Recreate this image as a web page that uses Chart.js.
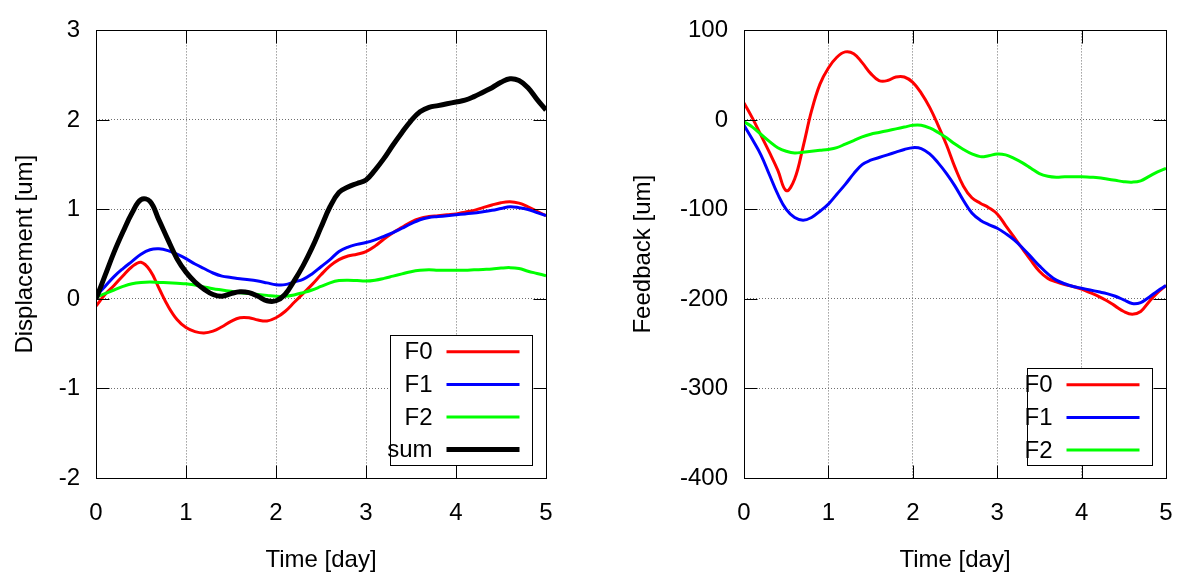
<!DOCTYPE html>
<html>
<head>
<meta charset="utf-8">
<script src="https://cdn.jsdelivr.net/npm/chart.js@4.4.1/dist/chart.umd.min.js"></script>
<style>
  html, body { margin: 0; padding: 0; background: #fff; }
  #wrap { position: relative; width: 1182px; height: 578px; }
  .pane { position: absolute; top: 0; }
  #leftPane { left: 0; }
  #rightPane { left: 600px; }
</style>
</head>
<body>
<div id="wrap">
  <div class="pane" id="leftPane"><canvas id="dispChart" width="600" height="578"></canvas></div>
  <div class="pane" id="rightPane"><canvas id="fbChart" width="582" height="578"></canvas></div>
</div>
<script>
const time = [0, 0.1, 0.2, 0.3, 0.4, 0.5, 0.6, 0.7, 0.8, 0.9, 1.0,
  1.1, 1.2, 1.3, 1.4, 1.5, 1.6, 1.7, 1.8, 1.9, 2.0,
  2.1, 2.2, 2.3, 2.4, 2.5, 2.6, 2.7, 2.8, 2.9, 3.0,
  3.1, 3.2, 3.3, 3.4, 3.5, 3.6, 3.7, 3.8, 3.9, 4.0,
  4.1, 4.2, 4.3, 4.4, 4.5, 4.6, 4.7, 4.8, 4.9, 5.0];

// Displacement [um]
const dispF0 = [-0.08, 0.05, 0.15, 0.26, 0.36, 0.41, 0.32, 0.12, -0.08, -0.23, -0.32,
  -0.365, -0.38, -0.36, -0.31, -0.25, -0.21, -0.21, -0.235, -0.245, -0.21,
  -0.14, -0.04, 0.06, 0.16, 0.27, 0.37, 0.44, 0.48, 0.5, 0.53,
  0.59, 0.67, 0.74, 0.8, 0.86, 0.9, 0.92, 0.93, 0.94, 0.95,
  0.97, 0.99, 1.02, 1.05, 1.075, 1.085, 1.07, 1.03, 0.98, 0.93];
const dispF1 = [0.03, 0.14, 0.25, 0.34, 0.42, 0.5, 0.55, 0.56, 0.54, 0.5, 0.45,
  0.39, 0.34, 0.29, 0.255, 0.24, 0.225, 0.215, 0.2, 0.18, 0.16,
  0.16, 0.19, 0.22, 0.28, 0.36, 0.44, 0.53, 0.58, 0.61, 0.63,
  0.66, 0.7, 0.74, 0.79, 0.84, 0.885, 0.91, 0.92, 0.93, 0.94,
  0.95, 0.96, 0.975, 0.99, 1.01, 1.03, 1.02, 1.0, 0.965, 0.93];
const dispF2 = [0.02, 0.06, 0.1, 0.14, 0.17, 0.185, 0.19, 0.185, 0.18, 0.175, 0.17,
  0.155, 0.135, 0.115, 0.1, 0.085, 0.07, 0.06, 0.05, 0.04, 0.03,
  0.03, 0.045, 0.07, 0.1, 0.14, 0.18, 0.205, 0.21, 0.205, 0.2,
  0.21, 0.23, 0.255, 0.28, 0.305, 0.32, 0.325, 0.32, 0.32, 0.32,
  0.32, 0.325, 0.33, 0.335, 0.345, 0.35, 0.34, 0.31, 0.285, 0.26];
const dispSum = [0, 0.26, 0.52, 0.75, 0.96, 1.11, 1.09, 0.88, 0.66, 0.45, 0.3,
  0.19, 0.11, 0.05, 0.03, 0.06, 0.08, 0.07, 0.03, -0.02, -0.02,
  0.05, 0.2, 0.37, 0.57, 0.8, 1.03, 1.19, 1.25, 1.29, 1.33,
  1.44, 1.57, 1.72, 1.86, 1.99, 2.09, 2.14, 2.16, 2.18, 2.2,
  2.22, 2.26, 2.31, 2.36, 2.42, 2.46, 2.44, 2.36, 2.23, 2.11];

// Feedback [um]
const fbF0 = [19, 2, -17, -36, -56, -79, -66, -30, 10, 40, 58,
  70, 76, 74, 64, 52, 44, 44, 48, 48, 42,
  30, 14, -6, -28, -53, -74, -87, -93, -98, -105,
  -118, -131, -144, -157, -169, -177, -181, -184, -186, -189,
  -193, -197, -202, -208, -214, -217, -214, -203, -193, -185];
const fbF1 = [-6, -22, -39, -61, -83, -100, -109, -112, -109, -102, -94,
  -83, -72, -60, -50, -45, -42, -39, -36, -33, -31,
  -32, -38, -48, -60, -74, -90, -104, -112, -117, -121,
  -127, -134, -143, -153, -163, -172, -179, -183, -186, -188,
  -190, -192, -194, -197, -201, -205, -204, -198, -191, -185];
const fbF2 = [-2, -8, -16, -24, -31, -35, -37, -36, -35, -34, -33,
  -31, -27, -23, -19, -16, -14, -12, -10, -8, -6,
  -6, -9, -14, -20, -27, -33, -38, -41, -40, -38,
  -39, -43, -48, -54, -60, -63, -64, -63.5, -63.5, -63.5,
  -64, -64.5, -66, -67.5, -69, -69.5, -68, -63, -58, -54];

const FONT = '"Liberation Sans", Arial, sans-serif';
const FSIZE = 24;

function pts(vals) {
  return vals.map((v, i) => ({ x: time[i], y: v }));
}

function series(label, vals, color, width, order) {
  return {
    label: label,
    data: pts(vals),
    borderColor: color,
    backgroundColor: color,
    borderWidth: width,
    pointRadius: 0,
    tension: 0.4,
    fill: false,
    order: order
  };
}

// gnuplot-like frame, inner ticks and boxed key inside the plot
const gnuplotFrame = {
  id: 'gnuplotFrame',
  afterDraw(chart) {
    const { ctx, chartArea: a, scales } = chart;
    const L = Math.round(a.left) + 0.5, R = Math.round(a.right) + 0.5;
    const T = Math.round(a.top) + 0.5, B = Math.round(a.bottom) + 0.5;
    ctx.save();
    ctx.strokeStyle = '#000';
    ctx.lineWidth = 1;
    ctx.beginPath();
    scales.x.ticks.forEach(t => {
      const px = Math.round(scales.x.getPixelForValue(t.value)) + 0.5;
      ctx.moveTo(px, B); ctx.lineTo(px, B - 13);
      ctx.moveTo(px, T); ctx.lineTo(px, T + 13);
    });
    scales.y.ticks.forEach(t => {
      const py = Math.round(scales.y.getPixelForValue(t.value)) + 0.5;
      ctx.moveTo(L, py); ctx.lineTo(L + 13, py);
      ctx.moveTo(R, py); ctx.lineTo(R - 13, py);
    });
    ctx.stroke();
    ctx.strokeRect(L, T, R - L, B - T);

    // key
    const sets = chart.data.datasets;
    const rowH = 32.6;
    ctx.font = FSIZE + 'px ' + FONT;
    const maxW = Math.max(...sets.map(d => ctx.measureText(d.label).width));
    const boxR = Math.round(a.right - 14) + 0.5;
    const boxB = Math.round(a.bottom - 13) + 0.5;
    const boxT = Math.round(boxB - rowH * sets.length) + 0.5;
    const lineR = boxR - 13, lineL = lineR - 73, textR = lineL - 14;
    const boxL = Math.round(textR - maxW + 3) + 0.5;
    ctx.fillStyle = '#fff';
    ctx.fillRect(boxL, boxT, boxR - boxL, boxB - boxT);
    ctx.strokeRect(boxL, boxT, boxR - boxL, boxB - boxT);
    ctx.textAlign = 'right';
    ctx.textBaseline = 'middle';
    sets.forEach((d, i) => {
      const y = boxT + rowH * (i + 0.5);
      ctx.fillStyle = '#000';
      ctx.fillText(d.label, textR, y + 1);
      ctx.strokeStyle = d.borderColor;
      ctx.lineWidth = d.borderWidth;
      ctx.beginPath();
      ctx.moveTo(lineL, y); ctx.lineTo(lineR, y);
      ctx.stroke();
    });
    ctx.restore();
  }
};

function options(yMin, yMax, yStep, yTitle, yWidth, yTitlePad, rightPad) {
  return {
    responsive: false,
    animation: false,
    events: [],
    layout: { padding: { left: 0, top: 22, right: rightPad, bottom: 0 } },
    plugins: { legend: { display: false }, tooltip: { enabled: false } },
    scales: {
      x: {
        type: 'linear', min: 0, max: 5,
        ticks: { stepSize: 1, padding: 21, color: '#000', font: { family: FONT, size: FSIZE } },
        grid: { color: '#6e6e6e', lineWidth: 1, drawTicks: false },
        border: { display: false, dash: [1, 2] },
        title: { display: true, text: 'Time [day]', color: '#000', padding: { top: 0, bottom: 3 }, font: { family: FONT, size: FSIZE } },
        afterFit(s) {
          s.height = 100;
          s.paddingLeft = 0;
          s.paddingRight = 0;
        }
      },
      y: {
        type: 'linear', min: yMin, max: yMax,
        ticks: { stepSize: yStep, padding: 16, color: '#000', font: { family: FONT, size: FSIZE } },
        grid: { color: '#6e6e6e', lineWidth: 1, drawTicks: false },
        border: { display: false, dash: [1, 2] },
        title: { display: true, text: yTitle, color: '#000', padding: { top: yTitlePad, bottom: 0 }, font: { family: FONT, size: FSIZE } },
        afterFit(s) { s.width = yWidth; }
      }
    }
  };
}

new Chart(document.getElementById('dispChart'), {
  type: 'line',
  data: {
    datasets: [
      series('F0', dispF0, '#ff0000', 3, 4),
      series('F1', dispF1, '#0000ff', 3, 3),
      series('F2', dispF2, '#00ff00', 3, 2),
      series('sum', dispSum, '#000000', 5, 1)
    ]
  },
  options: options(-2, 3, 1, 'Displacement [um]', 96, 11, 54),
  plugins: [gnuplotFrame]
});

new Chart(document.getElementById('fbChart'), {
  type: 'line',
  data: {
    datasets: [
      series('F0', fbF0, '#ff0000', 3, 3),
      series('F1', fbF1, '#0000ff', 3, 2),
      series('F2', fbF2, '#00ff00', 3, 1)
    ]
  },
  options: options(-400, 100, 100, 'Feedback [um]', 144, 29, 16),
  plugins: [gnuplotFrame]
});
</script>
</body>
</html>
